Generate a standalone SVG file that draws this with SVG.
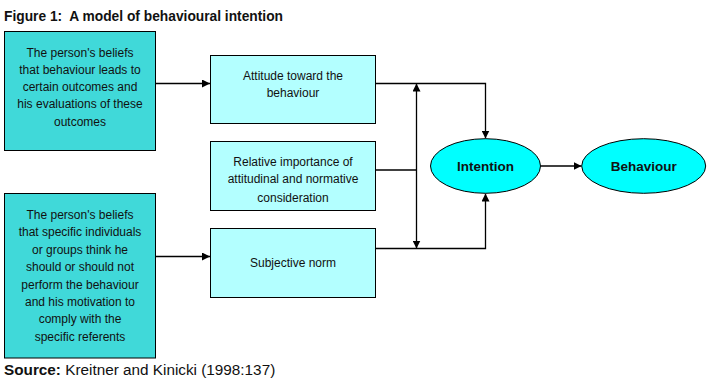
<svg xmlns="http://www.w3.org/2000/svg" width="715" height="391" viewBox="0 0 715 391">
<style>
text{font-family:"Liberation Sans",Arial,sans-serif;fill:#111}
.t{font-size:12px;text-anchor:middle}
.b{font-size:13.5px;font-weight:bold;text-anchor:middle}
.dark{fill:#40D9D9;stroke:#000;stroke-width:1}
.light{fill:#B3FFFF;stroke:#000;stroke-width:1}
.ell{fill:#00FFFF;stroke:#000;stroke-width:1}
.c{fill:none;stroke:#000;stroke-width:1.3}
</style>
<defs>
<marker id="ah" viewBox="0 0 10 10" refX="10" refY="5" markerWidth="8" markerHeight="8" markerUnits="userSpaceOnUse" orient="auto-start-reverse">
<path d="M0,0 L10,5 L0,10 z" fill="#000"/>
</marker>
</defs>
<rect width="715" height="391" fill="#fff"/>
<text x="4" y="21" xml:space="preserve" style="font-size:15px;font-weight:bold" textLength="279" lengthAdjust="spacingAndGlyphs">Figure 1:  A model of behavioural intention</text>

<g id="connectors">
<line class="c" x1="155" y1="83.5" x2="210" y2="83.5" marker-end="url(#ah)"/>
<line class="c" x1="155" y1="256.5" x2="210" y2="256.5" marker-end="url(#ah)"/>
<polyline class="c" points="375,83.5 485.5,83.5 485.5,138.5" marker-end="url(#ah)"/>
<polyline class="c" points="375,248.5 485.5,248.5 485.5,193.5" marker-end="url(#ah)"/>
<line class="c" x1="375" y1="170" x2="416.5" y2="170"/>
<line class="c" x1="416.5" y1="83.5" x2="416.5" y2="248.5" marker-start="url(#ah)" marker-end="url(#ah)"/>
<line class="c" x1="540.5" y1="166" x2="581.5" y2="166" marker-end="url(#ah)"/>
</g>

<g id="beliefs-outcomes">
<rect class="dark" x="4.5" y="31.5" width="151" height="119"/>
<text class="t" x="80" y="56.5">The person's beliefs</text>
<text class="t" x="80" y="73.8">that behaviour leads to</text>
<text class="t" x="80" y="91.1">certain outcomes and</text>
<text class="t" x="80" y="108.4">his evaluations of these</text>
<text class="t" x="80" y="125.7">outcomes</text>
</g>

<g id="beliefs-referents">
<rect class="dark" x="4.5" y="193.5" width="151" height="164.5"/>
<text class="t" x="80" y="218.5">The person's beliefs</text>
<text class="t" x="80" y="236">that specific individuals</text>
<text class="t" x="80" y="254">or groups think he</text>
<text class="t" x="80" y="271.2">should or should not</text>
<text class="t" x="80" y="288.8">perform the behaviour</text>
<text class="t" x="80" y="305.8">and his motivation to</text>
<text class="t" x="80" y="323.4">comply with the</text>
<text class="t" x="80" y="341">specific referents</text>
</g>

<g id="attitude">
<rect class="light" x="210.5" y="55.5" width="165" height="68"/>
<text class="t" x="293" y="80">Attitude toward the</text>
<text class="t" x="293" y="96.5">behaviour</text>
</g>

<g id="relative-importance">
<rect class="light" x="210.5" y="141.5" width="165" height="69"/>
<text class="t" x="293" y="165.5">Relative importance of</text>
<text class="t" x="293" y="183">attitudinal and normative</text>
<text class="t" x="293" y="201.5">consideration</text>
</g>

<g id="subjective-norm">
<rect class="light" x="210.5" y="228.5" width="165" height="69"/>
<text class="t" x="293" y="267">Subjective norm</text>
</g>

<g id="intention">
<ellipse class="ell" cx="485.5" cy="166" rx="55" ry="27.3"/>
<text class="b" x="485.5" y="171">Intention</text>
</g>

<g id="behaviour">
<ellipse class="ell" cx="643.7" cy="166" rx="62" ry="27.3"/>
<text class="b" x="643.7" y="171">Behaviour</text>
</g>

<text x="4" y="375" style="font-size:15.3px"><tspan style="font-weight:bold">Source:</tspan> Kreitner and Kinicki (1998:137)</text>
</svg>
